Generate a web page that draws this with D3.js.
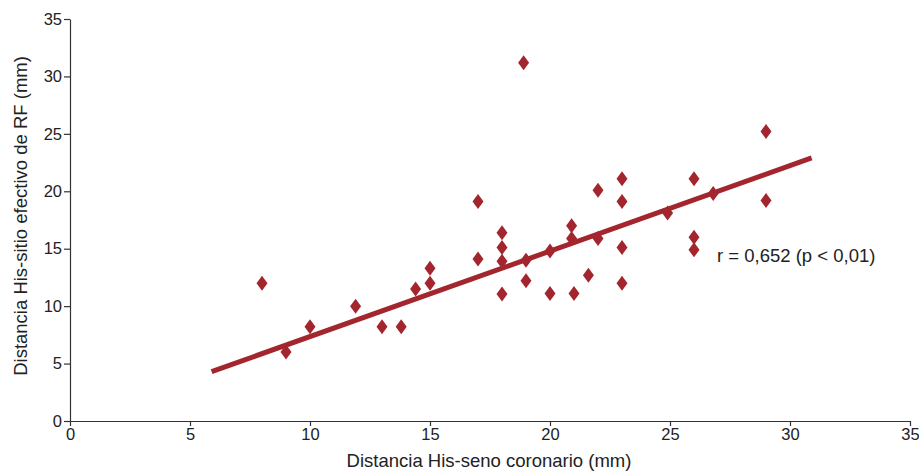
<!DOCTYPE html>
<html><head><meta charset="utf-8">
<script src="https://cdn.jsdelivr.net/npm/d3@7"></script>
<style>body{margin:0;background:#fff}svg{display:block}text{font-family:Arial,"Liberation Sans",sans-serif}</style>
</head><body><svg id="c" width="919" height="472"></svg>
<script>
const xVals = [8,9,10,11.9,13,13.8,14.4,15,15,17,17,18,18,18,18,18.9,19,19,20,20,20.9,20.9,21,21.6,22,22,23,23,23,23,24.9,26,26,26,26.8,29,29];
const yVals = [12,6,8.2,10,8.2,8.2,11.5,13.3,12,19.1,14.1,16.4,15.1,13.9,11.05,31.2,14,12.2,14.8,11.1,17,15.9,11.1,12.7,20.1,15.9,21.1,19.1,15.1,12,18.1,21.1,16,14.9,19.8,25.2,19.2];
const lineX = [5.9, 30.9];
const lineY = [4.3, 22.9];
const xTicks = [0,5,10,15,20,25,30,35];
const yTicks = [0,5,10,15,20,25,30,35];
const xTitle = "Distancia His-seno coronario (mm)";
const yTitle = "Distancia His-sitio efectivo de RF (mm)";
const note = "r = 0,652 (p < 0,01)";

const svg = d3.select("#c");
const x = d3.scaleLinear().domain([0,35]).range([70,910]);
const y = d3.scaleLinear().domain([0,35]).range([421,19]);
const red = "#a3262f";

const xa = svg.append("g").attr("transform","translate(0,421)")
  .call(d3.axisBottom(x).tickValues(xTicks).tickSize(5).tickPadding(2).tickSizeOuter(0));
const ya = svg.append("g").attr("transform","translate(70,0)")
  .call(d3.axisLeft(y).tickValues(yTicks).tickSize(6).tickPadding(2).tickSizeOuter(0));
[xa,ya].forEach(a=>{
  a.selectAll("path,line").attr("stroke","#333").attr("stroke-width",1.2);
  a.selectAll("text").attr("fill","#222").style("font-size","16.5px").style("font-family","Arial, 'Liberation Sans', sans-serif");
});

svg.append("line")
  .attr("x1",x(lineX[0])).attr("y1",y(lineY[0]))
  .attr("x2",x(lineX[1])).attr("y2",y(lineY[1]))
  .attr("stroke",red).attr("stroke-width",5);

const pts = xVals.map((v,i)=>[v,yVals[i]]);
svg.append("g").selectAll("path").data(pts).join("path")
  .attr("d",d=>{const cx=x(d[0]),cy=y(d[1]);return `M${cx},${cy-7.5}L${cx+5.5},${cy}L${cx},${cy+7.5}L${cx-5.5},${cy}Z`;})
  .attr("fill",red);

svg.append("text").attr("x",717).attr("y",262).attr("fill","#222")
  .style("font-size","18.5px").text(note);
svg.append("text").attr("x",489).attr("y",467).attr("text-anchor","middle").attr("fill","#222")
  .style("font-size","18.5px").text(xTitle);
svg.append("text").attr("transform","translate(27,216) rotate(-90)").attr("text-anchor","middle").attr("fill","#222")
  .style("font-size","18.5px").text(yTitle);
</script></body></html>
